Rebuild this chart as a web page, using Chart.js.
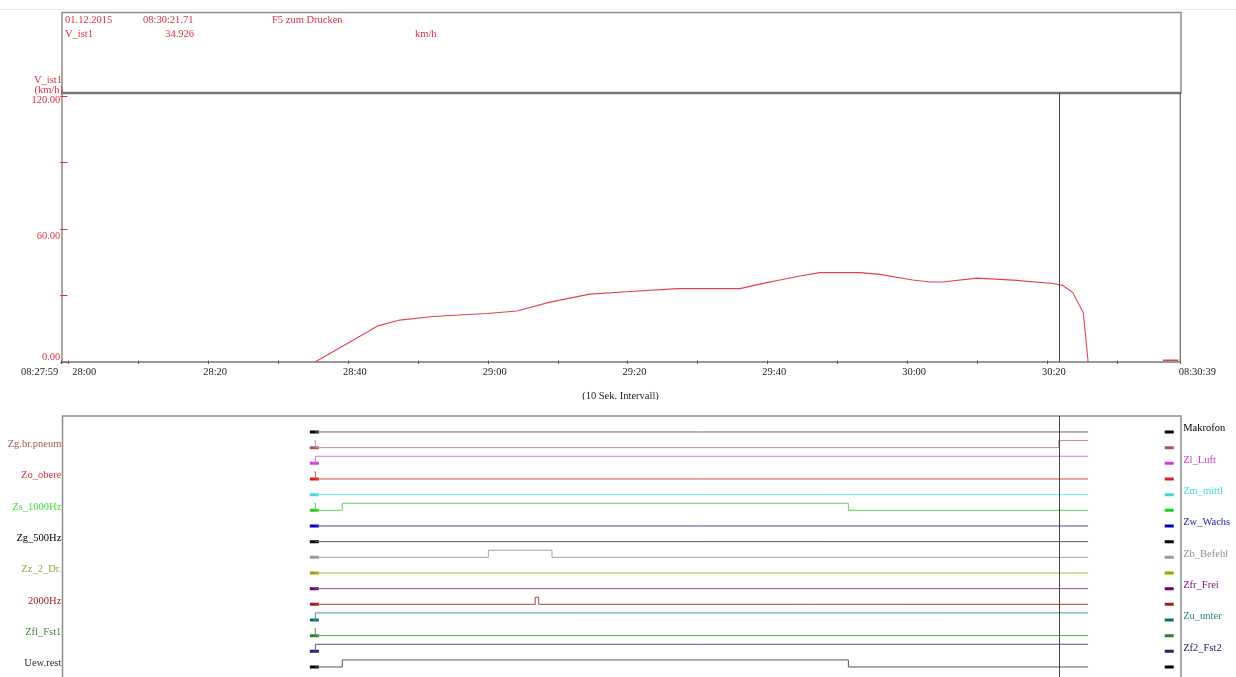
<!DOCTYPE html>
<html>
<head>
<meta charset="utf-8">
<script src="https://cdn.jsdelivr.net/npm/chart.js@4.4.1/dist/chart.umd.min.js"></script>
<style>
html,body{margin:0;padding:0;background:#fff;width:1236px;height:677px;overflow:hidden;}
#wrap{position:relative;width:1236px;height:677px;font-family:"Liberation Serif","DejaVu Serif",serif;}
canvas{position:absolute;left:0;}
.t{position:absolute;font-size:10.5px;white-space:nowrap;line-height:12px;color:#e0303c;}
#topline{position:absolute;left:0;top:9px;width:1236px;height:1px;background:#ececec;}
</style>
</head>
<body>
<div id="wrap">
  <div id="topline"></div>
  <canvas id="topChart" width="1236" height="400" style="top:0;width:1236px;height:400px"></canvas>
  <canvas id="botChart" width="1236" height="277" style="top:400px;width:1236px;height:277px"></canvas>
  <div class="t" style="left:65px;top:14px">01.12.2015</div>
  <div class="t" style="left:143px;top:14px">08:30:21.71</div>
  <div class="t" style="left:272px;top:14px">F5 zum Drucken</div>
  <div class="t" style="left:65px;top:28px">V_ist1</div>
  <div class="t" id="curVal" style="right:1042px;top:28px">34.926</div>
  <div class="t" style="left:415px;top:28px">km/h</div>
  <div class="t" style="right:1174px;top:74px">V_ist1</div>
  <div class="t" style="right:1173px;top:84px">(km/h)</div>
</div>
<script>
// ---------- data ----------
const spanSeconds = 160;            // 08:27:59 .. 08:30:39
const cursorTime = 142.71;          // 08:30:21.71
const speedTimes  = [36.3, 41.3, 45.3, 48.4, 53.2, 60.9, 65.2, 69.9, 75.6, 81.4, 88.1, 97.1, 100.9, 102.8, 105.7, 108.5, 114.3, 117.1, 121.8, 124.3, 126.1, 131.0, 136.2, 141.9, 143.3, 144.7, 146.2, 146.9];
const speedValues = [0, 9, 16.3, 18.9, 20.5, 21.9, 23, 27, 30.6, 31.8, 33.1, 33.1, 35.8, 37, 38.8, 40.3, 40.3, 39.5, 37, 36.1, 36.1, 37.8, 36.9, 35.4, 34.5, 31.3, 22.3, 0];
const zeroMarkTimes  = [157.6, 159.8];
const zeroMarkValues = [0.8, 0.8];

const yTickValues = [0, 30, 60, 90, 120];
const yTickLabels = ['0.00', '', '60.00', '', '120.00'];
const xTickTimes  = [0, 1, 11, 21, 31, 41, 51, 61, 71, 81, 91, 101, 111, 121, 131, 141, 151, 160];
const xLabelTimes = [0, 1, 21, 41, 61, 81, 101, 121, 141, 160];
const xLabelTexts = ['08:27:59', '28:00', '28:20', '28:40', '29:00', '29:20', '29:40', '30:00', '30:20', '08:30:39'];
const xTitle = '(10 Sek. Intervall)';

const signalNames = ['Makrofon', 'Zg.br.pneum', 'Zl_Luft', 'Zo_obere', 'Zm_mittl', 'Zs_1000Hz', 'Zw_Wachs', 'Zg_500Hz',
                     'Zb_Befehl', 'Zz_2_Dr.', 'Zfr_Frei', '2000Hz', 'Zu_unter', 'Zfl_Fst1', 'Zf2_Fst2', 'Uew.rest'];
// [time (s after 08:27:59), state]
const signalEdges = [
  [[36.3, 0]],
  [[36.2, 1], [36.35, 0], [142.71, 1]],
  [[36.2, 0], [36.35, 1]],
  [[36.2, 1], [36.35, 0]],
  [[36.3, 0]],
  [[36.2, 1], [36.35, 0], [40.2, 1], [112.6, 0]],
  [[36.3, 0]],
  [[36.3, 0]],
  [[36.3, 0], [61.1, 1], [70.2, 0]],
  [[36.3, 0]],
  [[36.3, 0]],
  [[36.3, 0], [67.8, 1], [68.3, 0]],
  [[36.2, 0], [36.35, 1]],
  [[36.2, 1], [36.35, 0]],
  [[36.2, 0], [36.35, 1]],
  [[36.3, 0], [40.2, 1], [112.6, 0]]
];
const signalEndTime = 146.9;
const markerTimes = [36.2, 158.5];

// ---------- styles ----------
const signalMarkColors = ['#000000', '#a05a66', '#d040d0', '#d82020', '#40d8d8', '#20d020', '#0000c0', '#000000',
                          '#999999', '#a0a000', '#700070', '#a02020', '#107070', '#308030', '#202070', '#000000'];
const signalLineColors = ['#666666', '#c08c8c', '#e070e0', '#e04848', '#70eaea', '#60d060', '#4848b0', '#555555',
                          '#a0a0b4', '#b8b850', '#905090', '#b04040', '#40a0a0', '#50a050', '#505090', '#555555'];
const signalLabelColors = ['#000000', '#a05a5a', '#d030d0', '#e03030', '#40e0e0', '#40e040', '#2020b0', '#000000',
                           '#909090', '#a0a040', '#801080', '#a02020', '#208080', '#408040', '#202060', '#303030'];
const RED = '#e0303c';
const FONT = '10.5px "Liberation Serif", "DejaVu Serif", serif';
const HIGH = 0.45;

// ---------- top chart ----------
const topDeco = {
  id: 'topDeco',
  afterDatasetsDraw(chart) {
    const {ctx, chartArea: a, scales: {x, y}} = chart;
    ctx.save();
    // header box
    ctx.strokeStyle = '#8c8c8c'; ctx.lineWidth = 1.5;
    ctx.strokeRect(a.left + 0.7, 12.5, a.right - a.left + 0.6, a.top - 12.5);
    ctx.strokeStyle = '#777'; ctx.lineWidth = 2.5;
    ctx.beginPath(); ctx.moveTo(a.left, a.top); ctx.lineTo(a.right + 1.3, a.top); ctx.stroke();
    // left axis
    ctx.strokeStyle = '#888'; ctx.lineWidth = 1.5;
    ctx.beginPath(); ctx.moveTo(a.left + 0.7, a.top); ctx.lineTo(a.left + 0.7, a.bottom); ctx.stroke();
    // bottom axis
    ctx.strokeStyle = '#777'; ctx.lineWidth = 1.5;
    ctx.beginPath(); ctx.moveTo(a.left, a.bottom); ctx.lineTo(a.right, a.bottom); ctx.stroke();
    // right line
    ctx.strokeStyle = '#444'; ctx.lineWidth = 1;
    ctx.beginPath(); ctx.moveTo(a.right + 0.5, a.top); ctx.lineTo(a.right + 0.5, a.bottom); ctx.stroke();
    // cursor
    const cx = Math.round(x.getPixelForValue(cursorTime)) + 0.5;
    ctx.beginPath(); ctx.moveTo(cx, a.top); ctx.lineTo(cx, a.bottom); ctx.stroke();
    // y ticks
    ctx.font = FONT; ctx.textAlign = 'right'; ctx.textBaseline = 'middle';
    yTickValues.forEach((v, i) => {
      const py = Math.round(y.getPixelForValue(v)) + 0.5;
      ctx.strokeStyle = RED; ctx.lineWidth = 1;
      ctx.beginPath(); ctx.moveTo(a.left - 1, py); ctx.lineTo(a.left + 6, py); ctx.stroke();
      if (yTickLabels[i]) {
        const off = i === 0 ? -5 : (i === yTickValues.length - 1 ? 4 : 7);
        ctx.fillStyle = RED;
        ctx.fillText(yTickLabels[i], a.left - 1, py + off);
      }
    });
    // x ticks
    ctx.strokeStyle = '#555'; ctx.lineWidth = 1;
    xTickTimes.forEach(t => {
      const px = Math.round(x.getPixelForValue(t)) + 0.5;
      ctx.beginPath(); ctx.moveTo(px, a.bottom - 1.5); ctx.lineTo(px, a.bottom + 2); ctx.stroke();
    });
    ctx.fillStyle = '#222';
    xLabelTimes.forEach((t, i) => {
      const px = x.getPixelForValue(t);
      if (i === 0) { ctx.textAlign = 'right'; ctx.fillText(xLabelTexts[i], px - 3, a.bottom + 10); }
      else if (i === xLabelTimes.length - 1) { ctx.textAlign = 'left'; ctx.fillText(xLabelTexts[i], px - 1, a.bottom + 10); }
      else if (i === 1) { ctx.textAlign = 'left'; ctx.fillText(xLabelTexts[i], px + 4, a.bottom + 10); }
      else { ctx.textAlign = 'center'; ctx.fillText(xLabelTexts[i], px + 7, a.bottom + 10); }
    });
    ctx.textAlign = 'center';
    ctx.fillText(xTitle, (a.left + a.right) / 2, a.bottom + 34);
    ctx.restore();
  }
};

new Chart(document.getElementById('topChart'), {
  type: 'line',
  data: {
    datasets: [
      { data: speedTimes.map((t, i) => ({x: t, y: speedValues[i]})), borderColor: '#e8404a', borderWidth: 1.1, pointRadius: 0, tension: 0 },
      { data: zeroMarkTimes.map((t, i) => ({x: t, y: zeroMarkValues[i]})), borderColor: '#e8404a', borderWidth: 1.3, pointRadius: 0 }
    ]
  },
  options: {
    responsive: false, animation: false, devicePixelRatio: 1,
    layout: { autoPadding: false, padding: { left: 61.3, right: 1236 - 1179.7, top: 93, bottom: 400 - 362 } },
    plugins: { legend: { display: false }, tooltip: { enabled: false } },
    scales: {
      x: { type: 'linear', min: 0, max: spanSeconds, display: false },
      y: { type: 'linear', min: 0, max: 121.3, display: false }
    }
  },
  plugins: [topDeco]
});

// ---------- bottom chart ----------
const laneCount = signalNames.length;
const laneBase = i => laneCount - 1 - i;

const botDatasets = [];
signalEdges.forEach((edges, i) => {
  const pts = edges.map(e => ({x: e[0], y: laneBase(i) + e[1] * HIGH}));
  const last = edges[edges.length - 1];
  pts.push({x: signalEndTime, y: laneBase(i) + last[1] * HIGH});
  botDatasets.push({ data: pts, borderColor: signalLineColors[i], borderWidth: 1, pointRadius: 0, stepped: true, tension: 0 });
  botDatasets.push({ data: markerTimes.map(t => ({x: t, y: laneBase(i)})), showLine: false, pointStyle: 'line',
                     pointRadius: 4.5, pointBorderWidth: 3, pointBorderColor: signalMarkColors[i], pointBackgroundColor: signalMarkColors[i] });
});

const botDeco = {
  id: 'botDeco',
  afterDatasetsDraw(chart) {
    const {ctx, chartArea: a, scales: {x, y}} = chart;
    ctx.save();
    ctx.strokeStyle = '#8c8c8c'; ctx.lineWidth = 1.5;
    ctx.beginPath();
    ctx.moveTo(a.left + 1.2, a.bottom + 2); ctx.lineTo(a.left + 1.2, a.top);
    ctx.lineTo(a.right + 1.3, a.top); ctx.lineTo(a.right + 1.3, a.bottom + 2);
    ctx.stroke();
    const cx = Math.round(x.getPixelForValue(cursorTime)) + 0.5;
    ctx.strokeStyle = '#444'; ctx.lineWidth = 1;
    ctx.beginPath(); ctx.moveTo(cx, a.top); ctx.lineTo(cx, a.bottom + 2); ctx.stroke();
    ctx.font = FONT; ctx.textBaseline = 'middle';
    signalNames.forEach((name, i) => {
      const py = y.getPixelForValue(laneBase(i)) - 3.5;
      ctx.fillStyle = signalLabelColors[i];
      if (i % 2 === 1) { ctx.textAlign = 'right'; ctx.fillText(name, a.left, py); }
      else { ctx.textAlign = 'left'; ctx.fillText(name, a.right + 3.5, py); }
    });
    ctx.restore();
  }
};

new Chart(document.getElementById('botChart'), {
  type: 'line',
  data: { datasets: botDatasets },
  options: {
    responsive: false, animation: false, devicePixelRatio: 1,
    layout: { autoPadding: false, padding: { left: 61.3, right: 1236 - 1179.7, top: 16, bottom: 0 } },
    plugins: { legend: { display: false }, tooltip: { enabled: false } },
    scales: {
      x: { type: 'linear', min: 0, max: spanSeconds, display: false },
      y: { type: 'linear', min: -0.64, max: 16.02, display: false }
    }
  },
  plugins: [botDeco]
});
</script>
</body>
</html>
